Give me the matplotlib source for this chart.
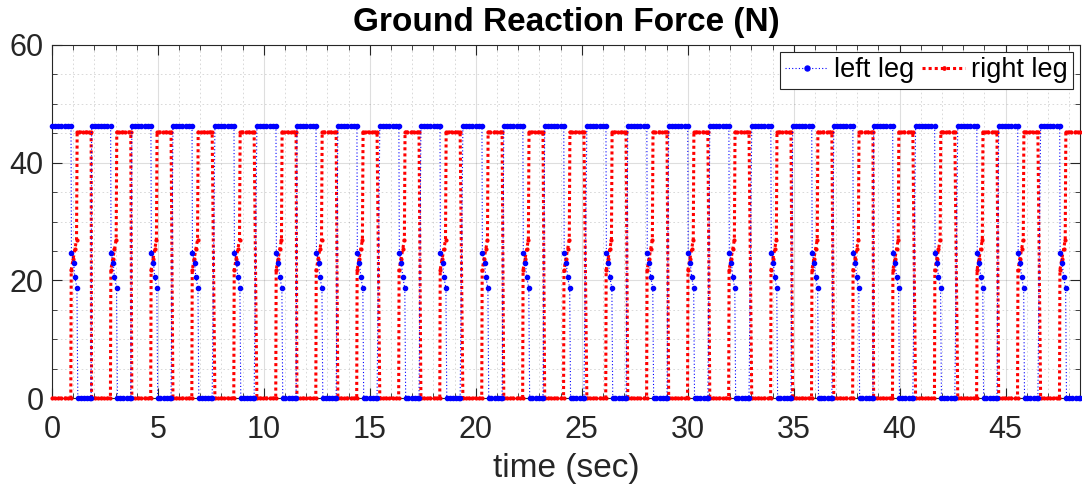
import matplotlib.pyplot as plt
from matplotlib.ticker import MultipleLocator

plt.rcParams['font.family'] = ['Liberation Sans', 'DejaVu Sans']

# start time of every stance phase of the left leg (sec)
step_starts = [0.0, 1.87, 3.77, 5.71, 7.69, 9.67, 11.56, 13.49, 15.47, 17.41,
               19.39, 21.32, 23.25, 25.24, 27.17, 29.10, 31.04, 33.02, 34.95,
               36.89, 38.77, 40.75, 42.74, 44.67, 46.65]

# one step of samples, time relative to the step start
left_rel_t = [0.00, 0.15, 0.30, 0.45, 0.60, 0.75, 0.90, 0.92, 1.02, 1.08,
              1.18, 1.22, 1.35, 1.50, 1.65, 1.80, 1.85]
left_force = [46.2, 46.2, 46.2, 46.2, 46.2, 46.2, 46.2, 24.7, 23.0, 20.6,
              18.7, 0.0, 0.0, 0.0, 0.0, 0.0, 0.0]

right_rel_t = [0.00, 0.15, 0.30, 0.45, 0.60, 0.75, 0.89, 0.91, 1.00, 1.08,
               1.16, 1.19, 1.30, 1.45, 1.60, 1.75, 1.85]
right_force = [0.0, 0.0, 0.0, 0.0, 0.0, 0.0, 0.0, 21.8, 23.6, 25.3,
               26.9, 45.2, 45.2, 45.2, 45.2, 45.2, 45.2]

tl, fl, tr, fr = [], [], [], []
for s in step_starts:
    tl += [s + t for t in left_rel_t]
    fl += left_force
    tr += [s + t for t in right_rel_t]
    fr += right_force

fig = plt.figure(figsize=(10.82, 4.94), dpi=100)
ax = fig.add_axes([0.048, 0.194, 0.950, 0.715])

dark = (0.15, 0.15, 0.15)
ax.plot(tl, fl, color=(0, 0, 1), linestyle=(0, (1, 2)), linewidth=0.8,
        marker='.', markersize=6, label='left leg', zorder=4, clip_on=False)
ax.plot(tr, fr, color=(1, 0, 0), linestyle=(0, (1, 1)), linewidth=2.2,
        marker='.', markersize=4, label='right leg', zorder=3, clip_on=False)

ax.set_xlim(0, 48.5)
ax.set_ylim(0, 60)
ax.xaxis.set_major_locator(MultipleLocator(5))
ax.xaxis.set_minor_locator(MultipleLocator(1))
ax.yaxis.set_major_locator(MultipleLocator(20))
ax.yaxis.set_minor_locator(MultipleLocator(5))

ax.grid(which='major', color=dark, alpha=0.15, linestyle='-', linewidth=0.8)
ax.grid(which='minor', color=dark, alpha=0.2, linestyle=(0, (2, 3)), linewidth=0.6)
ax.set_axisbelow(True)

ax.tick_params(which='both', direction='in', top=True, right=True, colors=dark,
               labelsize=22)
ax.tick_params(which='major', length=7, width=0.8)
ax.tick_params(which='minor', length=3.5, width=0.6)
ax.tick_params(axis='x', which='major', pad=12)
ax.tick_params(axis='y', which='major', pad=6)
for sp in ax.spines.values():
    sp.set_color(dark)
    sp.set_linewidth(0.8)

ax.set_title('Ground Reaction Force (N)', fontsize=24, fontweight='bold', pad=10)
ax.set_xlabel('time (sec)', fontsize=24, color=dark, labelpad=6)

leg = ax.legend(loc='upper right', ncol=2, fontsize=19.5, frameon=True,
                fancybox=False, framealpha=1, edgecolor=dark,
                borderpad=0.2, handlelength=1.6, handletextpad=0.2,
                columnspacing=0.3, borderaxespad=0.25, markerscale=1.2)
leg.get_frame().set_linewidth(0.8)
leg.set_zorder(5)

fig.savefig('out.png', dpi=100)
